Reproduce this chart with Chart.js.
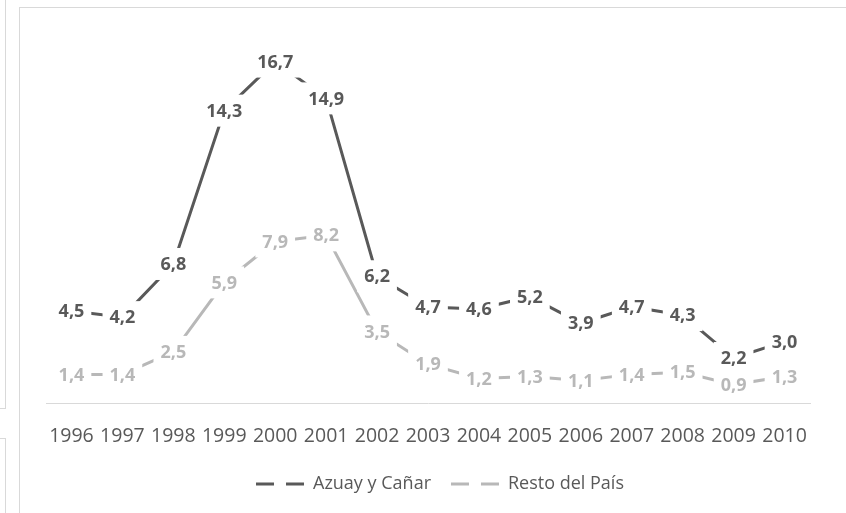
<!DOCTYPE html>
<html>
<head>
<meta charset="utf-8">
<script src="https://cdn.jsdelivr.net/npm/chart.js@4"></script>
<style>
  html, body { margin: 0; padding: 0; background: #fff; }
  body { width: 846px; height: 513px; position: relative; overflow: hidden; }
  .edge { position: absolute; border: 0 solid #d9d9d9; box-sizing: border-box; }
  #frame { position: absolute; left: 19px; top: 7px; width: 840px; height: 520px;
           border: 1px solid #d9d9d9; box-sizing: border-box; }
  #wrap { position: absolute; left: 1px; top: 1px; width: 826px; height: 506px; }
</style>
</head>
<body>
<div class="edge" style="left:-2px;top:-2px;width:8px;height:411px;border-right-width:1px;border-bottom-width:1px"></div>
<div class="edge" style="left:-2px;top:438px;width:8px;height:90px;border-right-width:1px;border-top-width:1px"></div>
<div id="frame"><div id="wrap"><canvas id="chart" width="826" height="506"></canvas></div></div>

<script>
// data
const years = ['1996', '1997', '1998', '1999', '2000', '2001', '2002', '2003',
               '2004', '2005', '2006', '2007', '2008', '2009', '2010'];
const azuayCanar = [4.5, 4.2, 6.8, 14.3, 16.7, 14.9, 6.2, 4.7, 4.6, 5.2, 3.9, 4.7, 4.3, 2.2, 3.0];
const restoPais  = [1.4, 1.4, 2.5, 5.9, 7.9, 8.2, 3.5, 1.9, 1.2, 1.3, 1.1, 1.4, 1.5, 0.9, 1.3];
const seriesNames = ['Azuay y Cañar', 'Resto del País'];

const DARK = '#595959';
const LIGHT = '#b8b8b8';
const FONT = '"Open Sans", sans-serif';

const fmt = v => v.toFixed(1).replace('.', ',');

// Excel style labels: white box over the line, then the number
const boxLabels = {
    id: 'boxLabels',
    afterDatasetsDraw(chart) {
        const ctx = chart.ctx;
        ctx.save();
        ctx.font = 'bold 18px ' + FONT;
        ctx.textAlign = 'center';
        ctx.textBaseline = 'middle';
        const items = [];
        chart.data.datasets.forEach((ds, i) => {
            chart.getDatasetMeta(i).data.forEach((pt, j) => {
                items.push({ x: pt.x, y: pt.y, txt: fmt(ds.data[j]), color: ds.borderColor });
            });
        });
        ctx.fillStyle = '#fff';
        items.forEach(it => {
            const w = ctx.measureText(it.txt).width + 14;
            const h = 32;
            ctx.fillRect(it.x - w / 2, it.y - h / 2, w, h);
        });
        items.forEach(it => {
            ctx.fillStyle = it.color;
            ctx.fillText(it.txt, it.x, it.y + 1);
        });
        ctx.restore();
    },
    afterLayout(chart) {
        // legend sits a bit right of centre in the original
        chart.legend.left += 12;
        chart.legend.right += 12;
    }
};

new Chart(document.getElementById('chart'), {
    type: 'line',
    data: {
        labels: years,
        datasets: [
            { label: seriesNames[0], data: azuayCanar, borderColor: DARK, backgroundColor: DARK },
            { label: seriesNames[1], data: restoPais, borderColor: LIGHT, backgroundColor: LIGHT }
        ]
    },
    options: {
        responsive: false,
        animation: false,
        layout: { padding: { left: 25, right: 37, top: 26, bottom: 12 } },
        elements: {
            line: { borderWidth: 3, tension: 0, borderCapStyle: 'round' },
            point: { radius: 0, hoverRadius: 0 }
        },
        scales: {
            x: {
                offset: true,
                grid: { display: false, drawTicks: false },
                border: { display: true, color: '#d9d9d9', width: 1 },
                ticks: {
                    color: DARK,
                    font: { family: FONT, size: 19.5 },
                    padding: 22,
                    autoSkip: false,
                    maxRotation: 0
                },
                afterFit(scale) { scale.height -= 15.4; }
            },
            y: { display: false, min: 0, max: 18 }
        },
        plugins: {
            legend: {
                position: 'bottom',
                labels: {
                    color: DARK,
                    font: { family: FONT, size: 18 },
                    usePointStyle: true,
                    pointStyleWidth: 48,
                    padding: 20,
                    generateLabels(chart) {
                        return chart.data.datasets.map((ds, i) => ({
                            text: ds.label,
                            fillStyle: ds.borderColor,
                            strokeStyle: ds.borderColor,
                            fontColor: DARK,
                            lineWidth: 3,
                            lineDash: [18, 12],
                            pointStyle: 'line',
                            datasetIndex: i
                        }));
                    }
                }
            },
            tooltip: { enabled: false }
        }
    },
    plugins: [boxLabels]
});
</script>
</body>
</html>
